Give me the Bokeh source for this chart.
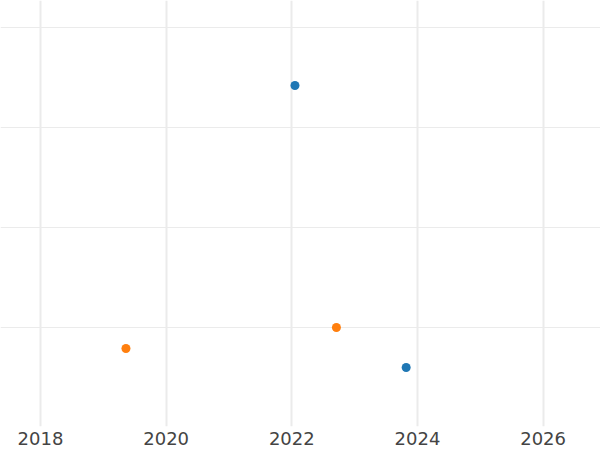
from bokeh.plotting import figure
from bokeh.models import FixedTicker, Range1d
from bokeh.embed import file_html
from bokeh.resources import INLINE

# data
series_a_x = [2022.05, 2023.82]
series_a_y = [2.42, -0.40]
series_b_x = [2019.36, 2022.71]
series_b_y = [-0.21, 0.00]
x_ticks = [2018, 2020, 2022, 2024, 2026]
y_ticks = [0, 1, 2, 3]

p = figure(frame_width=600, frame_height=426, output_backend="svg",
           toolbar_location=None, min_border=0,
           x_range=Range1d(2017.3634, 2026.913), y_range=Range1d(-0.99, 3.27))
p.outline_line_color = None
p.background_fill_color = "white"
p.border_fill_color = "white"

p.xaxis.ticker = FixedTicker(ticks=x_ticks)
p.xaxis.axis_line_color = None
p.xaxis.major_tick_line_color = None
p.xaxis.minor_tick_line_color = None
p.xaxis.major_tick_out = 0
p.xaxis.major_tick_in = 0
p.xaxis.major_label_standoff = 5
p.xaxis.major_label_text_font = "DejaVu Sans"
p.xaxis.major_label_text_font_size = "18px"
p.xaxis.major_label_text_color = "#444444"
p.yaxis.visible = False

p.xgrid.ticker = FixedTicker(ticks=x_ticks)
p.xgrid.grid_line_color = "#ebebeb"
p.xgrid.grid_line_width = 2
p.ygrid.ticker = FixedTicker(ticks=y_ticks)
p.ygrid.grid_line_color = "#ebebeb"
p.ygrid.grid_line_width = 1

p.scatter(series_a_x, series_a_y, size=9, fill_color="#1f77b4", line_color=None)
p.scatter(series_b_x, series_b_y, size=9, fill_color="#ff7f0e", line_color=None)

open("out.html", "w").write(file_html(p, INLINE))
